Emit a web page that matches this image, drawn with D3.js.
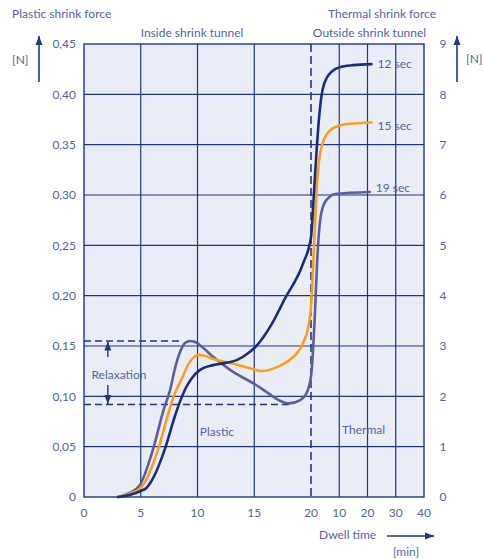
<!DOCTYPE html>
<html>
<head>
<meta charset="utf-8">
<script src="https://cdn.jsdelivr.net/npm/d3@7"></script>
<style>
  html, body { margin: 0; padding: 0; background: #ffffff; }
  svg { display: block; }
  text { font-family: Lato, "Noto Sans", sans-serif; }
</style>
</head>
<body>
<svg id="chart" width="483" height="559"></svg>
<script>
// ---------- data ----------
// combined dwell-time axis: 0..20 = inside tunnel (min), 20..60 = outside tunnel 0..40 (min)
const xTickValues = [0, 5, 10, 15, 20, 30, 40, 50, 60];
const xTickLabels = ["0", "5", "10", "15", "20", "10", "20", "30", "40"];
const yLeftTicks = [0, 0.05, 0.10, 0.15, 0.20, 0.25, 0.30, 0.35, 0.40, 0.45];
const yRightTicks = [0, 1, 2, 3, 4, 5, 6, 7, 8, 9];
const seriesNames = ["19 sec", "15 sec", "12 sec"];

const series12 = [
  [3.0, 0], [4.0, 0.002], [5.0, 0.006], [5.5, 0.009], [6.1, 0.019], [7.14, 0.048],
  [8.0, 0.080], [8.5, 0.096], [9.0, 0.109], [9.5, 0.118], [10.2, 0.126], [11.4, 0.131],
  [12.4, 0.133], [13.45, 0.136], [14.6, 0.144], [15.1, 0.149], [16.5, 0.171],
  [17.7, 0.197], [19.3, 0.232], [20.0, 0.258], [21.0, 0.300], [22.0, 0.345],
  [23.0, 0.381], [23.8, 0.400], [24.6, 0.410], [25.5, 0.416], [27.5, 0.423],
  [30.2, 0.427], [35.0, 0.429], [41.4, 0.430]
];
const series15 = [
  [3.0, 0], [4.0, 0.003], [5.08, 0.010], [6.55, 0.048], [7.43, 0.083], [7.9, 0.100],
  [8.6, 0.117], [9.2, 0.132], [9.6, 0.138], [10.1, 0.141], [10.7, 0.140], [11.4, 0.137],
  [12.9, 0.133], [14.6, 0.128], [15.65, 0.125], [17.0, 0.129], [18.1, 0.136],
  [19.3, 0.153], [19.76, 0.169], [20.0, 0.189], [21.4, 0.270], [22.2, 0.315],
  [22.8, 0.333], [23.5, 0.345], [24.3, 0.353], [25.5, 0.360], [26.7, 0.364],
  [30.2, 0.369], [35.0, 0.371], [41.4, 0.372]
];
const series19 = [
  [3.0, 0], [4.0, 0.004], [4.93, 0.012], [6.1, 0.048], [7.0, 0.086], [7.58, 0.106],
  [8.0, 0.127], [8.46, 0.144], [8.9, 0.153], [9.34, 0.155], [9.8, 0.154], [10.2, 0.151],
  [11.4, 0.139], [12.9, 0.126], [15.2, 0.111], [16.5, 0.101], [17.2, 0.096],
  [18.1, 0.093], [19.0, 0.096], [19.6, 0.103], [20.06, 0.121], [21.4, 0.183],
  [22.2, 0.235], [22.8, 0.262], [23.4, 0.278], [24.2, 0.288], [25.2, 0.294],
  [26.5, 0.298], [28.5, 0.301], [40.8, 0.303]
];
const relaxTop = 0.155, relaxBottom = 0.092;
const relaxTopEnd = 8.7, relaxBottomEnd = 18.1;

// ---------- styles ----------
const C = {
  bg: "#ebedf6", grid: "#22348a", text: "#5763a5",
  s12: "#1b2c7d", s15: "#f8a01c", s19: "#5b5d9f"
};

const svg = d3.select("#chart");
const x = d3.scaleLinear().domain([0, 20, 60]).range([84, 311, 424]);
const y = d3.scaleLinear().domain([0, 0.45]).range([497, 44]);
const yR = d3.scaleLinear().domain([0, 9]).range([497, 44]);

// plot background
svg.append("rect").attr("x", x(0)).attr("y", y(0.45))
  .attr("width", x(60) - x(0)).attr("height", y(0) - y(0.45)).attr("fill", C.bg);

// grid
const g = svg.append("g");
g.selectAll("line.h").data(yLeftTicks.filter(d => d > 0 && d < 0.45)).join("line")
  .attr("x1", x(0)).attr("x2", x(60)).attr("y1", d => y(d)).attr("y2", d => y(d))
  .attr("stroke", C.grid).attr("stroke-width", 1.2);
g.selectAll("line.v").data(xTickValues.filter(d => d > 0 && d < 60 && d !== 20)).join("line")
  .attr("x1", d => x(d)).attr("x2", d => x(d)).attr("y1", y(0)).attr("y2", y(0.45))
  .attr("stroke", C.grid).attr("stroke-width", 1.2);
// frame
svg.append("rect").attr("x", x(0)).attr("y", y(0.45))
  .attr("width", x(60) - x(0)).attr("height", y(0) - y(0.45))
  .attr("fill", "none").attr("stroke", C.grid).attr("stroke-width", 1.4);

// dashed lines
svg.append("line").attr("x1", x(20)).attr("x2", x(20)).attr("y1", y(0.45)).attr("y2", y(0))
  .attr("stroke", C.grid).attr("stroke-width", 1.6).attr("stroke-dasharray", "8,4");
svg.append("line").attr("x1", x(0)).attr("x2", x(relaxTopEnd)).attr("y1", y(relaxTop)).attr("y2", y(relaxTop))
  .attr("stroke", C.grid).attr("stroke-width", 1.5).attr("stroke-dasharray", "7,4");
svg.append("line").attr("x1", x(0)).attr("x2", x(relaxBottomEnd)).attr("y1", y(relaxBottom)).attr("y2", y(relaxBottom))
  .attr("stroke", C.grid).attr("stroke-width", 1.5).attr("stroke-dasharray", "7,4");

// curves
const line = d3.line().x(d => x(d[0])).y(d => y(d[1])).curve(d3.curveMonotoneX);
const curves = [[series19, C.s19], [series15, C.s15], [series12, C.s12]];
svg.selectAll("path.curve").data(curves).join("path")
  .attr("d", d => line(d[0])).attr("fill", "none").attr("stroke", d => d[1])
  .attr("stroke-width", 2.6).attr("stroke-linecap", "round").attr("stroke-linejoin", "round");

// series labels
const labelDy = [-4, 3, 0];
const ends = [series19, series15, series12].map(s => s[s.length - 1]);
svg.selectAll("text.slabel").data(seriesNames).join("text")
  .attr("x", (d, i) => x(ends[i][0]) + 6)
  .attr("y", (d, i) => y(ends[i][1]) + labelDy[i])
  .attr("dy", "0.35em").attr("font-size", 12).attr("fill", C.text).text(d => d);

// axis tick labels
svg.selectAll("text.yl").data(yLeftTicks).join("text")
  .attr("x", 76).attr("y", d => y(d)).attr("dy", "0.35em").attr("text-anchor", "end")
  .attr("font-size", 12).attr("fill", C.text)
  .text(d => d === 0 ? "0" : d3.format(".2f")(d).replace(".", ","));
svg.selectAll("text.yr").data(yRightTicks).join("text")
  .attr("x", 443).attr("y", d => yR(d)).attr("dy", "0.35em").attr("text-anchor", "middle")
  .attr("font-size", 12).attr("fill", C.text).text(d => d);
svg.selectAll("text.xl").data(xTickValues).join("text")
  .attr("x", d => x(d)).attr("y", 513).attr("dy", "0.35em").attr("text-anchor", "middle")
  .attr("font-size", 12).attr("fill", C.text).text((d, i) => xTickLabels[i]);

// titles
function txt(t, xx, yy, anchor) {
  svg.append("text").attr("x", xx).attr("y", yy).attr("dy", "0.35em")
    .attr("text-anchor", anchor || "start").attr("font-size", 12).attr("fill", C.text).text(t);
}
txt("Plastic shrink force", 12, 14);
txt("Thermal shrink force", 436, 14, "end");
txt("Inside shrink tunnel", 192, 33, "middle");
txt("Outside shrink tunnel", 369.5, 33, "middle");
txt("[N]", 12, 60);
txt("[N]", 466, 59);
txt("Dwell time", 319, 535);
txt("[min]", 393, 552);
txt("Relaxation", 119, 375, "middle");
txt("Plastic", x(10.2), 432);
txt("Thermal", x(31), 430);

// arrows
function arrow(x1, y1, x2, y2, sw) {
  svg.append("line").attr("x1", x1).attr("y1", y1).attr("x2", x2).attr("y2", y2)
    .attr("stroke", C.grid).attr("stroke-width", sw || 1.6);
  const a = Math.atan2(y2 - y1, x2 - x1), L = 9, W = 3.5;
  const p = [[x2, y2],
    [x2 - L * Math.cos(a) + W * Math.sin(a), y2 - L * Math.sin(a) - W * Math.cos(a)],
    [x2 - L * Math.cos(a) - W * Math.sin(a), y2 - L * Math.sin(a) + W * Math.cos(a)]];
  svg.append("path").attr("d", "M" + p.join("L") + "Z").attr("fill", C.grid);
}
arrow(39, 82, 39, 36);
arrow(457, 82, 457, 36);
arrow(387, 536, 434, 536);
arrow(x(2.1), 357, x(2.1), y(relaxTop) + 0.5, 1.4);
arrow(x(2.1), 385, x(2.1), y(relaxBottom) - 0.5, 1.4);
</script>
</body>
</html>
